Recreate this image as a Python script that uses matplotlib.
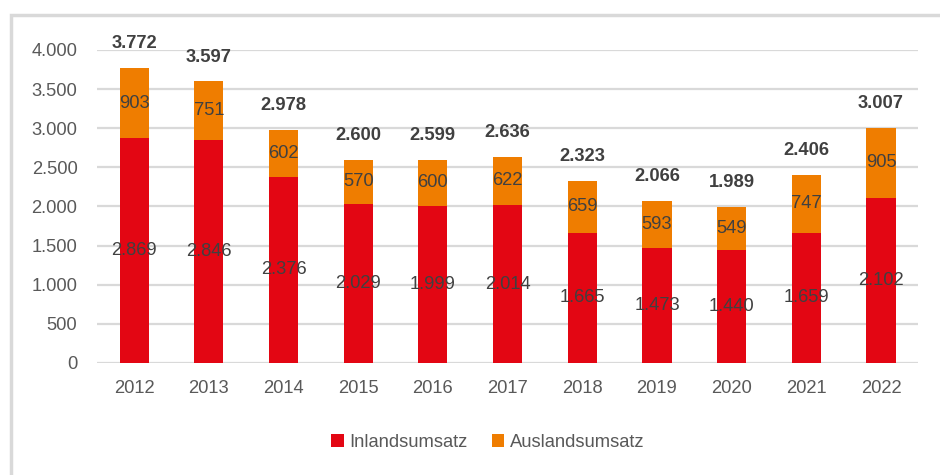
import matplotlib
matplotlib.use("Agg")
import matplotlib.pyplot as plt
import numpy as np
from matplotlib.patches import Rectangle

# data (Mio. EUR)
jahre = ['2012', '2013', '2014', '2015', '2016', '2017', '2018', '2019', '2020', '2021', '2022']
inland = [2869, 2846, 2376, 2029, 1999, 2014, 1665, 1473, 1440, 1659, 2102]
ausland = [903, 751, 602, 570, 600, 622, 659, 593, 549, 747, 905]
gesamt = [3772, 3597, 2978, 2600, 2599, 2636, 2323, 2066, 1989, 2406, 3007]

rot = '#E30613'
orange = '#EF7D00'
grau_txt = '#595959'
dunkel = '#404040'
fs = 13.2

plt.rcParams['font.family'] = ['Liberation Sans Narrow', 'Liberation Sans', 'DejaVu Sans']

def de(v):
    return '{:,}'.format(int(v)).replace(',', '.')

fig = plt.figure(figsize=(9.4, 4.75), dpi=100)
ax = fig.add_axes([0.103, 0.236, 0.874, 0.659])

x = np.arange(len(jahre))
w = 0.39
b1 = ax.bar(x, inland, w, color=rot, label='Inlandsumsatz', zorder=2)
b2 = ax.bar(x, ausland, w, bottom=inland, color=orange, label='Auslandsumsatz', zorder=2)

for i in range(len(jahre)):
    ax.text(x[i], inland[i] / 2, de(inland[i]), ha='center', va='center',
            fontsize=fs, color=dunkel, zorder=3)
    ax.text(x[i], inland[i] + ausland[i] / 2, de(ausland[i]), ha='center', va='center',
            fontsize=fs, color=dunkel, zorder=3)
    ax.text(x[i], gesamt[i] + 310, de(gesamt[i]), ha='center', va='center',
            fontsize=fs, fontweight='bold', color=dunkel, zorder=3, clip_on=False)

ax.set_xlim(-0.5, len(jahre) - 0.5)
ax.set_ylim(0, 4000)
ax.set_yticks(np.arange(0, 4001, 500))
ax.set_yticklabels([de(v) for v in np.arange(0, 4001, 500)])
ax.set_xticks(x)
ax.set_xticklabels(jahre)
ax.tick_params(axis='both', length=0, labelsize=fs, colors=grau_txt)
ax.tick_params(axis='x', pad=12)
ax.tick_params(axis='y', pad=14)
ax.yaxis.grid(True, color='#D9D9D9', linewidth=1.6, zorder=0)
ax.set_axisbelow(True)
for s in ax.spines.values():
    s.set_visible(False)

leg = fig.legend(handles=[b1, b2], loc='center', bbox_to_anchor=(0.519, 0.068), ncol=2,
                 frameon=False, fontsize=fs, handlelength=0.7, handleheight=0.7,
                 handletextpad=0.3, columnspacing=1.3)
for t in leg.get_texts():
    t.set_color(grau_txt)

# grauer Rahmen
fig.patches.append(Rectangle((11 / 940, -0.05), 1.2, 1 - 15 / 475 + 0.05,
                             transform=fig.transFigure, fill=False,
                             edgecolor='#D9D9D9', linewidth=2.5))

fig.savefig('out.png', dpi=100)
